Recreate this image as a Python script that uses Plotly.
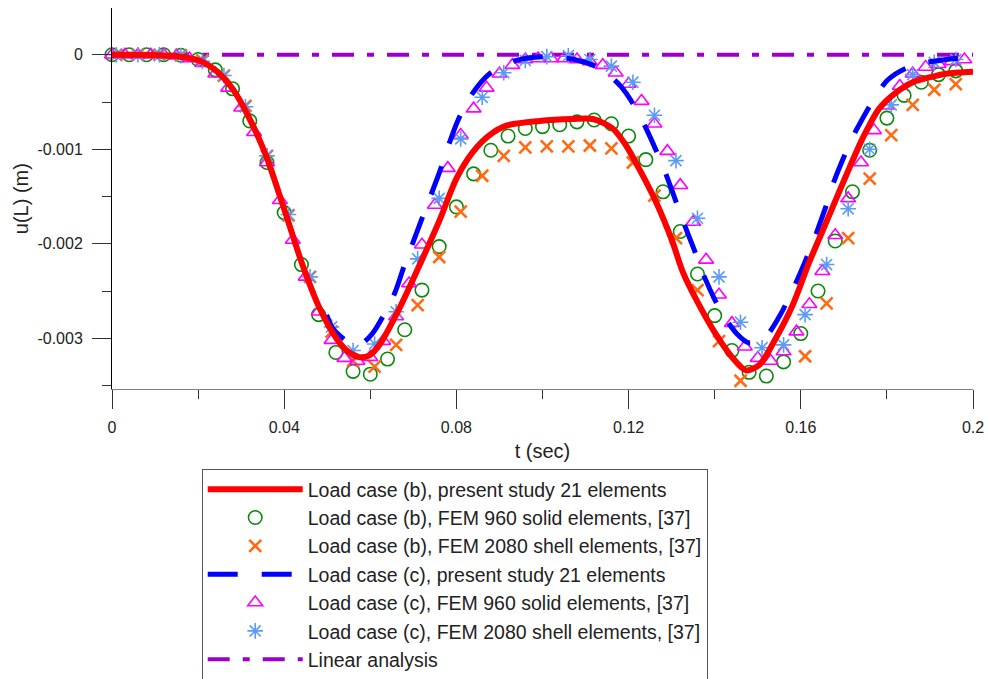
import plotly.graph_objects as go

# ---------------- data (u in units of 1e-3 m) ----------------
t_b_present = [0, 0.005, 0.010, 0.015, 0.0204, 0.0242, 0.028, 0.032, 0.0358, 0.0399, 0.0443,
               0.0482, 0.0521, 0.0548, 0.0575, 0.0598, 0.0621, 0.0668, 0.0714, 0.0761, 0.080,
               0.0838, 0.0877, 0.0916, 0.0993, 0.107, 0.1117, 0.1163, 0.1194, 0.1225, 0.1264,
               0.1302, 0.1326, 0.1364, 0.1403, 0.1442, 0.1473, 0.1504, 0.1542, 0.1581, 0.162,
               0.1666, 0.1705, 0.1743, 0.1782, 0.1821, 0.186, 0.1898, 0.1937, 0.2]
u_b_present = [0, 0, -0.003, -0.015, -0.063, -0.17, -0.36, -0.68, -1.07, -1.62, -2.23,
               -2.68, -3.00, -3.14, -3.20, -3.18, -3.07, -2.68, -2.23, -1.75, -1.31,
               -1.03, -0.85, -0.75, -0.70, -0.68, -0.68, -0.78, -0.96, -1.21, -1.56,
               -1.98, -2.30, -2.65, -2.96, -3.21, -3.34, -3.28, -3.00, -2.65, -2.19,
               -1.70, -1.28, -0.89, -0.57, -0.40, -0.29, -0.24, -0.20, -0.18]

t_c_present = [0, 0.005, 0.010, 0.015, 0.0204, 0.0242, 0.028, 0.032, 0.0358, 0.0399, 0.0443,
               0.0466, 0.0498, 0.0512, 0.0552, 0.0575, 0.0605, 0.0656, 0.0679, 0.0703, 0.0721,
               0.0737, 0.0761, 0.078, 0.0803, 0.0834, 0.0877, 0.0939, 0.1005, 0.1074, 0.1132,
               0.1183, 0.1217, 0.1248, 0.1283, 0.1329, 0.1353, 0.1376, 0.1415, 0.1453, 0.148,
               0.1515, 0.155, 0.1581, 0.1608, 0.1631, 0.1658, 0.1678, 0.1705, 0.1732, 0.1801,
               0.1856, 0.1956, 0.2]
u_c_present = [0, 0, -0.003, -0.015, -0.063, -0.17, -0.36, -0.68, -1.07, -1.62, -2.23,
               -2.50, -2.75, -2.89, -3.05, -3.07, -2.95, -2.53, -2.23, -1.94, -1.72,
               -1.53, -1.24, -0.98, -0.70, -0.43, -0.20, -0.06, -0.02, -0.05, -0.14,
               -0.34, -0.57, -0.85, -1.22, -1.79, -2.07, -2.35, -2.72, -2.96, -3.05,
               -3.00, -2.77, -2.49, -2.21, -1.95, -1.61, -1.33, -1.03, -0.77, -0.27,
               -0.12, -0.04, -0.03]

t_solid_b = [0.000, 0.004, 0.008, 0.012, 0.016, 0.020, 0.024, 0.028, 0.032, 0.036,
             0.040, 0.044, 0.048, 0.052, 0.056, 0.060, 0.064, 0.068, 0.072, 0.076,
             0.080, 0.084, 0.088, 0.092, 0.096, 0.100, 0.104, 0.108, 0.112, 0.116,
             0.120, 0.124, 0.128, 0.132, 0.136, 0.140, 0.144, 0.148, 0.152, 0.156,
             0.160, 0.164, 0.168, 0.172, 0.176, 0.180, 0.184, 0.188, 0.192, 0.196]
u_solid_b = [0, 0, 0, 0, -0.005, -0.05, -0.16, -0.36, -0.70, -1.14,
             -1.67, -2.22, -2.75, -3.15, -3.35, -3.38, -3.22, -2.91, -2.49, -2.03,
             -1.61, -1.26, -1.01, -0.86, -0.78, -0.76, -0.74, -0.71, -0.69, -0.73,
             -0.86, -1.11, -1.45, -1.87, -2.32, -2.76, -3.13, -3.36, -3.40, -3.25,
             -2.95, -2.50, -1.97, -1.45, -1.01, -0.67, -0.43, -0.29, -0.21, -0.17]

t_shell = [0.001, 0.006, 0.011, 0.016, 0.021, 0.026, 0.031, 0.036, 0.041, 0.046,
           0.051, 0.056, 0.061, 0.066, 0.071, 0.076, 0.081, 0.086, 0.091, 0.096,
           0.101, 0.106, 0.111, 0.116, 0.121, 0.126, 0.131, 0.136, 0.141, 0.146,
           0.151, 0.156, 0.161, 0.166, 0.171, 0.176, 0.181, 0.186, 0.191, 0.196]
u_shell_b = [0, 0, 0, -0.005, -0.06, -0.22, -0.54, -1.07, -1.70, -2.35,
             -2.93, -3.24, -3.30, -3.07, -2.65, -2.14, -1.66, -1.28, -1.07, -0.98,
             -0.97, -0.97, -0.96, -0.99, -1.14, -1.49, -1.94, -2.49, -3.03, -3.45,
             -3.65, -3.56, -3.19, -2.63, -1.94, -1.31, -0.85, -0.53, -0.37, -0.31]
u_shell_c = [0, 0, 0, -0.01, -0.07, -0.22, -0.55, -1.07, -1.69, -2.35,
             -2.88, -3.13, -3.06, -2.72, -2.16, -1.52, -0.89, -0.45, -0.19, -0.06,
             -0.02, -0.01, -0.05, -0.12, -0.29, -0.64, -1.12, -1.73, -2.35, -2.83,
             -3.10, -3.07, -2.75, -2.22, -1.63, -1.00, -0.53, -0.21, -0.08, -0.05]

t_solid_c = [0.000, 0.003, 0.006, 0.009, 0.012, 0.015, 0.018, 0.021, 0.024, 0.027,
             0.030, 0.033, 0.036, 0.039, 0.042, 0.045, 0.048, 0.051, 0.054, 0.057,
             0.060, 0.063, 0.066, 0.069, 0.072, 0.075, 0.078, 0.081, 0.084, 0.087,
             0.090, 0.093, 0.096, 0.099, 0.102, 0.105, 0.108, 0.111, 0.114, 0.117,
             0.120, 0.123, 0.126, 0.129, 0.132, 0.135, 0.138, 0.141, 0.144, 0.147,
             0.150, 0.153, 0.156, 0.159, 0.162, 0.165, 0.168, 0.171, 0.174, 0.177,
             0.180, 0.183, 0.186, 0.189, 0.192, 0.195, 0.198]
u_solid_c = [0, 0, 0, 0, 0, -0.01, -0.04, -0.09, -0.20, -0.35,
             -0.56, -0.82, -1.14, -1.54, -1.96, -2.35, -2.72, -3.02, -3.21, -3.24,
             -3.20, -3.03, -2.77, -2.42, -2.01, -1.59, -1.20, -0.85, -0.57, -0.35,
             -0.20, -0.11, -0.05, -0.04, -0.04, -0.04, -0.05, -0.07, -0.11, -0.19,
             -0.31, -0.49, -0.73, -1.02, -1.38, -1.77, -2.17, -2.54, -2.84, -3.09,
             -3.21, -3.24, -3.14, -2.93, -2.64, -2.29, -1.91, -1.52, -1.14, -0.80,
             -0.54, -0.33, -0.20, -0.13, -0.10, -0.07, -0.05]

t_linear = [0, 0.2]
u_linear = [0, 0]

x_tickvals = [0, 0.04, 0.08, 0.12, 0.16, 0.2]
x_ticktext = ["0", "0.04", "0.08", "0.12", "0.16", "0.2"]
x_minor = [0.02, 0.06, 0.10, 0.14, 0.18]
y_tickvals = [0, -0.001, -0.002, -0.003]
y_ticktext = ["0", "-0.001", "-0.002", "-0.003"]
y_minor = [0.0005, -0.0005, -0.0015, -0.0025, -0.0035]

names = [
    "Load case (b), present study 21 elements",
    "Load case (b), FEM 960 solid elements, [37]",
    "Load case (b), FEM 2080 shell elements, [37]",
    "Load case (c), present study 21 elements",
    "Load case (c), FEM 960 solid elements, [37]",
    "Load case (c), FEM 2080 shell elements, [37]",
    "Linear analysis",
]

def m(vals):
    return [v * 1e-3 for v in vals]

fig = go.Figure()

fig.add_trace(go.Scatter(x=t_linear, y=u_linear, mode="lines", name=names[6], legendrank=7,
                         line=dict(color="#9900CC", width=4, dash="22px,13px,7px,13px")))
fig.add_trace(go.Scatter(x=t_solid_b, y=m(u_solid_b), mode="markers", name=names[1], legendrank=2,
                         cliponaxis=False,
                         marker=dict(symbol="circle-open", size=13.5, color="#0A8A0A", line=dict(width=1.6))))
fig.add_trace(go.Scatter(x=t_shell, y=m(u_shell_b), mode="markers", name=names[2], legendrank=3,
                         cliponaxis=False,
                         marker=dict(symbol="x-thin-open", size=12, color="#FF6A13", line=dict(width=2.6))))
fig.add_trace(go.Scatter(x=t_solid_c, y=m(u_solid_c), mode="markers", name=names[4], legendrank=5,
                         cliponaxis=False,
                         marker=dict(symbol="triangle-up-open", size=13, color="#FF00FF", line=dict(width=1.6))))
fig.add_trace(go.Scatter(x=t_shell, y=m(u_shell_c), mode="markers", name=names[5], legendrank=6,
                         cliponaxis=False,
                         marker=dict(symbol="asterisk-open", size=13, color="#5B9BF5", line=dict(width=1.6))))
fig.add_trace(go.Scatter(x=t_c_present, y=m(u_c_present), mode="lines", name=names[3], legendrank=4,
                         line=dict(color="#0000FF", width=5, dash="30px,24px", shape="spline", smoothing=0.8)))
fig.add_trace(go.Scatter(x=t_b_present, y=m(u_b_present), mode="lines", name=names[0], legendrank=1,
                         line=dict(color="#FF0000", width=6, shape="spline", smoothing=0.8)))

font_family = "Liberation Sans, Arial, sans-serif"

# The figure is a little taller than the 679px window (the overflow is hidden), so the
# legend runs past the bottom edge as in the original; the plot uses the upper paper part.
fig.update_layout(
    width=989, height=700, autosize=False,
    margin=dict(l=112.3, r=15.5, t=8, b=0, pad=0),
    plot_bgcolor="white", paper_bgcolor="white",
    font=dict(family=font_family, size=16, color="#222222"),
    showlegend=True,
    legend=dict(x=0.1042, y=0.33382, xanchor="left", yanchor="top",
                bordercolor="#555555", borderwidth=1, bgcolor="white",
                font=dict(size=19.5, color="#222222"), itemwidth=95, tracegroupgap=0,
                traceorder="normal"),
)
fig.update_xaxes(
    range=[0, 0.2], showgrid=False, zeroline=False, automargin=False,
    showline=True, linecolor="#808080", linewidth=1,
    ticks="outside", ticklen=19, tickwidth=1, tickcolor="#333333",
    tickvals=x_tickvals, ticktext=x_ticktext, ticklabelstandoff=5,
    minor=dict(tickvals=x_minor, ticks="outside", ticklen=9, tickcolor="#333333"),
    title=dict(text="t (sec)", font=dict(size=20), standoff=8),
)
fig.update_yaxes(
    range=[-0.00354, 0.000495], domain=[0.44899, 1.0],
    showgrid=False, zeroline=False, automargin=False,
    showline=True, linecolor="#000000", linewidth=1,
    ticks="outside", ticklen=19, tickwidth=1, tickcolor="#333333",
    tickvals=y_tickvals, ticktext=y_ticktext, ticklabelstandoff=6,
    minor=dict(tickvals=y_minor, ticks="outside", ticklen=9, tickcolor="#333333"),
    title=dict(text="u(L) (m)", font=dict(size=20), standoff=3),
)

# remove the default page margin so the figure starts at the window's top-left corner
fig.write_html("out.html",
               config={"displayModeBar": False},
               post_script="document.body.style.margin='0';"
                           "document.documentElement.style.overflow='hidden';")
